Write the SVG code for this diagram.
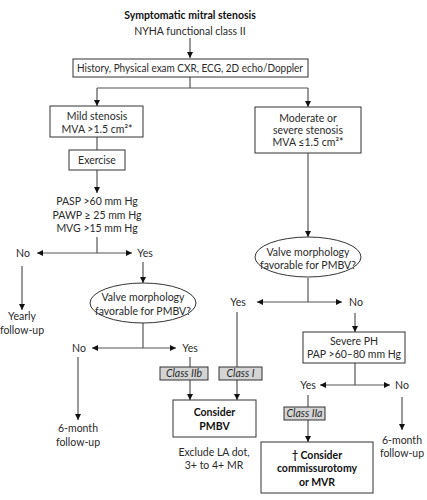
<svg xmlns="http://www.w3.org/2000/svg" width="427" height="500" viewBox="0 0 427 500">
<style>
text{font-family:Lato,"Open Sans","Liberation Sans",sans-serif;font-size:10.5px;fill:#2a2a2a;text-anchor:middle}
.b{font-weight:bold;fill:#111}
.i{font-style:italic}
.box{fill:#fff;stroke:#333;stroke-width:1}
.cls{fill:#d4d4d4;stroke:#333;stroke-width:1}
.c{fill:none;stroke:#555;stroke-width:1.2}
.a{marker-end:url(#ah)}
</style>
<defs>
<marker id="ah" viewBox="0 0 8 8" refX="8" refY="4" markerWidth="6" markerHeight="6" markerUnits="userSpaceOnUse" orient="auto">
<path d="M0,0 L8,4 L0,8 Z" fill="#111"/>
</marker>
</defs>
<rect width="427" height="500" fill="#fff"/>
<g id="connectors">
<path class="c a" d="M190,38 V58"/>
<path class="c" d="M190,77 V88 M97,88 H308"/>
<path class="c a" d="M97,88 V106"/>
<path class="c a" d="M308,88 V107"/>
<path class="c" d="M97,137 V150"/>
<path class="c a" d="M97,170 V193"/>
<path class="c" d="M97,237 V253"/>
<path class="c a" d="M97,253 H37"/>
<path class="c a" d="M97,253 H132"/>
<path class="c a" d="M22,266 V310"/>
<path class="c a" d="M143,262 V283"/>
<path class="c" d="M143,323 V348"/>
<path class="c a" d="M143,348 H92"/>
<path class="c a" d="M143,348 H176"/>
<path class="c a" d="M78,357 V420"/>
<path class="c" d="M190,357 V367"/>
<path class="c a" d="M190,380 V400"/>
<path class="c a" d="M308,153 V237"/>
<path class="c" d="M308,278 V302"/>
<path class="c a" d="M308,302 H257"/>
<path class="c a" d="M308,302 H342"/>
<path class="c" d="M237,312 V367"/>
<path class="c a" d="M237,380 V400"/>
<path class="c a" d="M355,313 V332"/>
<path class="c" d="M355,363 V385"/>
<path class="c a" d="M355,385 H320"/>
<path class="c a" d="M355,385 H390"/>
<path class="c" d="M308,395 V407"/>
<path class="c a" d="M308,420 V442"/>
<path class="c a" d="M402,397 V430"/>
</g>
<g id="title">
<text x="190" y="19" class="b" font-size="11.5">Symptomatic mitral stenosis</text>
<text x="190" y="35" font-size="11">NYHA functional class II</text>
</g>
<g id="history">
<rect class="box" x="73" y="59" width="235" height="18"/>
<text x="190" y="72" textLength="226" lengthAdjust="spacingAndGlyphs">History, Physical exam CXR, ECG, 2D echo/Doppler</text>
</g>
<g id="mild">
<rect class="box" x="50" y="106" width="93" height="31"/>
<text x="97" y="120">Mild stenosis</text>
<text x="97" y="133">MVA &gt;1.5 cm²*</text>
</g>
<g id="exercise">
<rect class="box" x="69" y="150" width="56" height="20"/>
<text x="97" y="164">Exercise</text>
</g>
<g id="pressures">
<text x="97" y="205">PASP &gt;60 mm Hg</text>
<text x="97" y="219">PAWP ≥ 25 mm Hg</text>
<text x="97" y="232">MVG &gt;15 mm Hg</text>
</g>
<g id="no1"><text x="23" y="257">No</text></g>
<g id="yes1"><text x="145" y="257">Yes</text></g>
<g id="yearly">
<text x="22" y="320">Yearly</text>
<text x="22" y="334">follow-up</text>
</g>
<g id="valve1">
<ellipse class="box" cx="143" cy="303" rx="53" ry="20"/>
<text x="143" y="301">Valve morphology</text>
<text x="143" y="315">favorable for PMBV?</text>
</g>
<g id="no2"><text x="79" y="352">No</text></g>
<g id="yes2"><text x="190" y="352">Yes</text></g>
<g id="sixmonth1">
<text x="78" y="432">6-month</text>
<text x="78" y="446">follow-up</text>
</g>
<g id="classIIb">
<rect class="cls" x="160" y="367" width="48" height="13"/>
<text x="184" y="377" class="i" font-size="10">Class IIb</text>
</g>
<g id="classI">
<rect class="cls" x="219" y="367" width="43" height="13"/>
<text x="240.5" y="377" class="i" font-size="10">Class I</text>
</g>
<g id="pmbv">
<rect class="box" x="173" y="400" width="83" height="37"/>
<text x="214.5" y="416" class="b">Consider</text>
<text x="214.5" y="430" class="b">PMBV</text>
</g>
<g id="exclude">
<text x="214" y="456">Exclude LA dot,</text>
<text x="214" y="469">3+ to 4+ MR</text>
</g>
<g id="moderate">
<rect class="box" x="255" y="107" width="106" height="46"/>
<text x="308" y="122">Moderate or</text>
<text x="308" y="134">severe stenosis</text>
<text x="308" y="146">MVA ≤1.5 cm²*</text>
</g>
<g id="valve2">
<ellipse class="box" cx="308" cy="257" rx="53" ry="20"/>
<text x="308" y="256">Valve morphology</text>
<text x="308" y="269">favorable for PMBV?</text>
</g>
<g id="yes3"><text x="238" y="306">Yes</text></g>
<g id="no3"><text x="356" y="306">No</text></g>
<g id="severe">
<rect class="box" x="303" y="332" width="102" height="31"/>
<text x="354" y="345">Severe PH</text>
<text x="354" y="358">PAP &gt;60–80 mm Hg</text>
</g>
<g id="yes4"><text x="308" y="389">Yes</text></g>
<g id="no4"><text x="402" y="389">No</text></g>
<g id="classIIa">
<rect class="cls" x="284" y="407" width="41" height="13"/>
<text x="304.5" y="417" class="i" font-size="10">Class IIa</text>
</g>
<g id="mvr">
<rect class="box" x="261" y="442" width="112" height="51"/>
<text x="317" y="459" class="b">† Consider</text>
<text x="317" y="472" class="b">commissurotomy</text>
<text x="317" y="486" class="b">or MVR</text>
</g>
<g id="sixmonth2">
<text x="402" y="444">6-month</text>
<text x="402" y="457">follow-up</text>
</g>
</svg>
